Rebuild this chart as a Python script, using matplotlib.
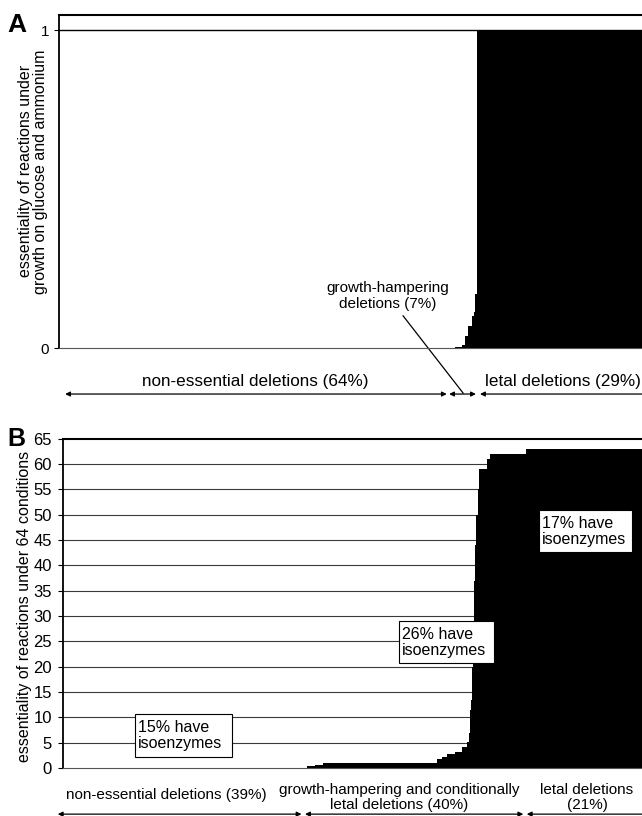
import matplotlib.pyplot as plt
from matplotlib.patches import Rectangle

plt.rcParams["font.family"] = ["Liberation Sans", "DejaVu Sans"]

# PANEL A DATA
# Reactions sorted by essentiality on glucose + ammonium (x = % of reactions).
a_rank = [0, 67.9, 69.1, 69.6, 70.2, 70.8, 71.2, 71.4, 71.6, 100]
a_essentiality = [0, 0.005, 0.01, 0.04, 0.07, 0.10, 0.115, 0.17, 1, 1]
a_ticks = [0, 1]
a_groups = [
    "non-essential deletions (64%)",
    "growth-hampering\ndeletions (7%)",
    "letal deletions (29%)",
]
a_group_edges = [1.0, 66.5, 66.9, 71.5, 72.2, 100]

# PANEL B DATA
# Number of the 64 conditions in which each reaction is essential.
b_rank = [0, 40.4, 42.1, 43.5, 44.9, 64.6, 65.5, 66.3, 67.7, 68.9, 69.8,
          70.1, 70.3, 70.5, 70.6, 70.8, 71.0, 71.2, 71.4, 71.6, 71.9,
          73.2, 73.7, 80.0, 100]
b_essentiality = [0, 0.1, 0.3, 0.6, 0.9, 1.7, 2.2, 2.7, 3.2, 4.2, 5.2,
                  6.9, 11.4, 13.4, 20, 28, 37, 44, 50, 55, 59,
                  61, 62, 63, 63]
b_ticks = list(range(0, 66, 5))
b_groups = [
    "non-essential deletions (39%)",
    "growth-hampering and conditionally\nletal deletions (40%)",
    "letal deletions\n(21%)",
]
b_group_edges = [-0.9, 41.2, 41.8, 79.5, 80.1, 100]
b_isoenzymes = ["15% have\nisoenzymes", "26% have\nisoenzymes", "17% have\nisoenzymes"]


def double_arrow(ax, x0, x1, y, style="<|-|>"):
    ax.annotate(
        "", xy=(x1, y), xytext=(x0, y), xycoords="data",
        arrowprops=dict(arrowstyle=style, color="black", lw=0.9,
                        mutation_scale=7, shrinkA=0, shrinkB=0),
        annotation_clip=False,
    )


def style_axis(ax, ticks, tick_size, pad):
    ax.spines["right"].set_visible(False)
    ax.spines["left"].set_linewidth(1.3)
    ax.spines["top"].set_linewidth(1.5)
    ax.spines["bottom"].set_color("#555555")
    ax.set_xticks([])
    ax.set_yticks(ticks)
    ax.tick_params(axis="y", length=3.6, width=0.8, pad=pad, labelsize=tick_size)
    ax.set_xlim(0, 100)


fig = plt.figure(figsize=(6.42, 8.16), dpi=100)

# PANEL A
ax_a = fig.add_axes([0.0924, 0.5732, 0.9076, 0.409])
ax_a.fill_between(a_rank, a_essentiality, step="post", color="black", lw=0, zorder=2)
ax_a.axhline(1, color="black", lw=1.0, zorder=1)
style_axis(ax_a, a_ticks, 11, 3.6)
ax_a.set_ylim(0, 1.05)
ax_a.set_ylabel("essentiality of reactions under\ngrowth on glucose and ammonium",
                fontsize=11.5, linespacing=1.0)
ax_a.yaxis.set_label_coords(-0.02, 0.53)
ax_a.text(-0.073, 0.97, "A", transform=ax_a.transAxes, fontsize=19,
          fontweight="bold", ha="center", va="center")

arrow_y = -0.144
double_arrow(ax_a, a_group_edges[0], a_group_edges[1], arrow_y)
double_arrow(ax_a, a_group_edges[2], a_group_edges[3], arrow_y)
double_arrow(ax_a, a_group_edges[5] + 1, a_group_edges[4], arrow_y, style="-|>")

ax_a.text(33.6, -0.103, a_groups[0], fontsize=12.3, ha="center", va="center")
ax_a.text(56.4, 0.165, a_groups[1], fontsize=11, ha="center", va="center",
          multialignment="center")
ax_a.text(73.1, -0.103, a_groups[2], fontsize=12.3, ha="left", va="center")
# Leader line from the growth-hampering label to its arrow.
ax_a.plot([59.0, 69.3], [0.102, -0.141], color="black", lw=0.9, clip_on=False)

# PANEL B
ax_b = fig.add_axes([0.0981, 0.0588, 0.9019, 0.4036])
ax_b.fill_between(b_rank, b_essentiality, step="post", color="black", lw=0, zorder=2)
for t in b_ticks[1:-1]:
    ax_b.axhline(t, color="#3a3a3a", lw=0.8, zorder=1)
style_axis(ax_b, b_ticks, 12, 4.3)
ax_b.set_ylim(0, 65)
ax_b.set_ylabel("essentiality of reactions under 64 conditions", fontsize=11.5)
ax_b.yaxis.set_label_coords(-0.053, 0.49)
ax_b.text(-0.08, 1.0, "B", transform=ax_b.transAxes, fontsize=18,
          fontweight="bold", ha="center", va="center")

# Isoenzyme boxes: (left, bottom, right, top) in data units.
boxes = [(12.4, 2.2, 29.2, 10.7), (58.0, 20.7, 74.4, 29.0), (82.2, 42.6, 98.3, 50.9)]
for label, (x0, y0, x1, y1) in zip(b_isoenzymes, boxes):
    ax_b.add_patch(Rectangle((x0, y0), x1 - x0, y1 - y0, facecolor="white",
                             edgecolor="black", lw=0.8, zorder=4))
    ax_b.text(x0 + 0.5, (y0 + y1) / 2, label, fontsize=11.5, ha="left",
              va="center", zorder=5, linespacing=1.1)

# Group labels and arrows under panel B.
ax_b.text(17.9, -5.4, b_groups[0], fontsize=11, ha="center", va="center")
ax_b.text(58.0, -5.8, b_groups[1], fontsize=11, ha="center", va="center",
          multialignment="center", linespacing=1.05)
ax_b.text(90.5, -5.8, b_groups[2], fontsize=11, ha="center", va="center",
          multialignment="center", linespacing=1.05)

arrow_y = -9.1
double_arrow(ax_b, b_group_edges[0], b_group_edges[1], arrow_y)
double_arrow(ax_b, b_group_edges[2], b_group_edges[3], arrow_y)
double_arrow(ax_b, b_group_edges[5] + 1, b_group_edges[4], arrow_y, style="-|>")

fig.savefig("out.png", dpi=100)
